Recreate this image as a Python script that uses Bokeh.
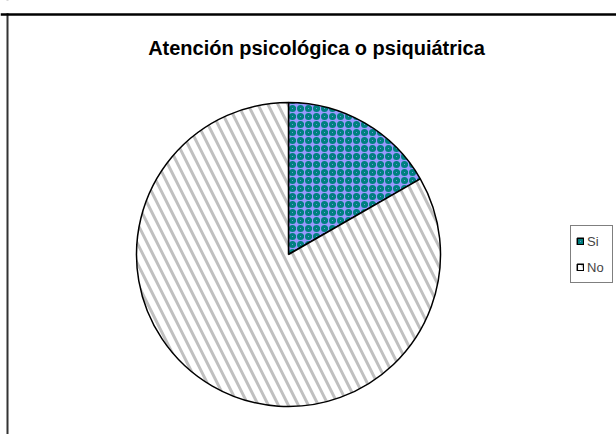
import math
from bokeh.plotting import figure
from bokeh.models import Range1d, Label, Span, BoxAnnotation, ColumnDataSource, Legend, LegendItem
from bokeh.embed import file_html
from bokeh.resources import INLINE

# ---- data ----
categories = ["Si", "No"]
values = [16.7, 83.3]
fill_colors = ["#9999FF", "#FFFFFF"]
hatch_patterns = ["ring", "left_diagonal_line"]
hatch_colors = ["#008080", "#C0C0C0"]
title_text = "Atención psicológica o psiquiátrica"

W, H = 616, 434
p = figure(width=W, height=H, output_backend="svg", toolbar_location=None,
           x_range=Range1d(0, W), y_range=Range1d(-H, 0),
           min_border=0, outline_line_color=None, background_fill_color="white",
           border_fill_color="white")
p.axis.visible = False
p.xgrid.visible = False
p.ygrid.visible = False

# chart-area frame: left and top edges
p.add_layout(Span(location=7, dimension="height", line_color="#333333", line_width=2))
p.add_layout(BoxAnnotation(left=0, right=14, top=0, bottom=-12.8,
                           fill_color="white", fill_alpha=1, line_color=None))
p.add_layout(Span(location=-14, dimension="width", line_color="black", line_width=2.5))

total = sum(values)
starts, ends = [], []
cum = 0.0
for v in values:
    starts.append(math.pi / 2 - 2 * math.pi * cum / total)
    cum += v
    ends.append(math.pi / 2 - 2 * math.pi * cum / total)

cx, cy, r = 288, -254, 152
scales = [8, 20]
weights = [3, 3]
items = []
for i, c in enumerate(categories):
    sub = ColumnDataSource(dict(start=[starts[i]], end=[ends[i]], val=[values[i]]))
    g = p.wedge(x=cx, y=cy, radius=r, radius_units="screen",
                start_angle="start", end_angle="end", direction="clock",
                source=sub, fill_color=fill_colors[i], hatch_pattern=hatch_patterns[i],
                hatch_color=hatch_colors[i], hatch_scale=scales[i], hatch_weight=weights[i],
                line_color="black", line_width=1.5)
    items.append(LegendItem(label=c, renderers=[g]))

legend = Legend(items=items, location=(570, 434 - 283), glyph_width=8, glyph_height=8,
                label_height=20, spacing=6, padding=5, label_standoff=3,
                label_text_font="Liberation Sans", label_text_font_size="13px",
                border_line_color="black", border_line_width=1,
                background_fill_color="white", background_fill_alpha=1)
p.add_layout(legend, "center")

p.add_layout(Label(x=316, y=-47, text=title_text, text_align="center",
                   text_baseline="alphabetic", text_font="Liberation Sans",
                   text_font_style="bold", text_font_size="20px", text_color="black"))

open("out.html", "w").write(file_html(p, INLINE))
